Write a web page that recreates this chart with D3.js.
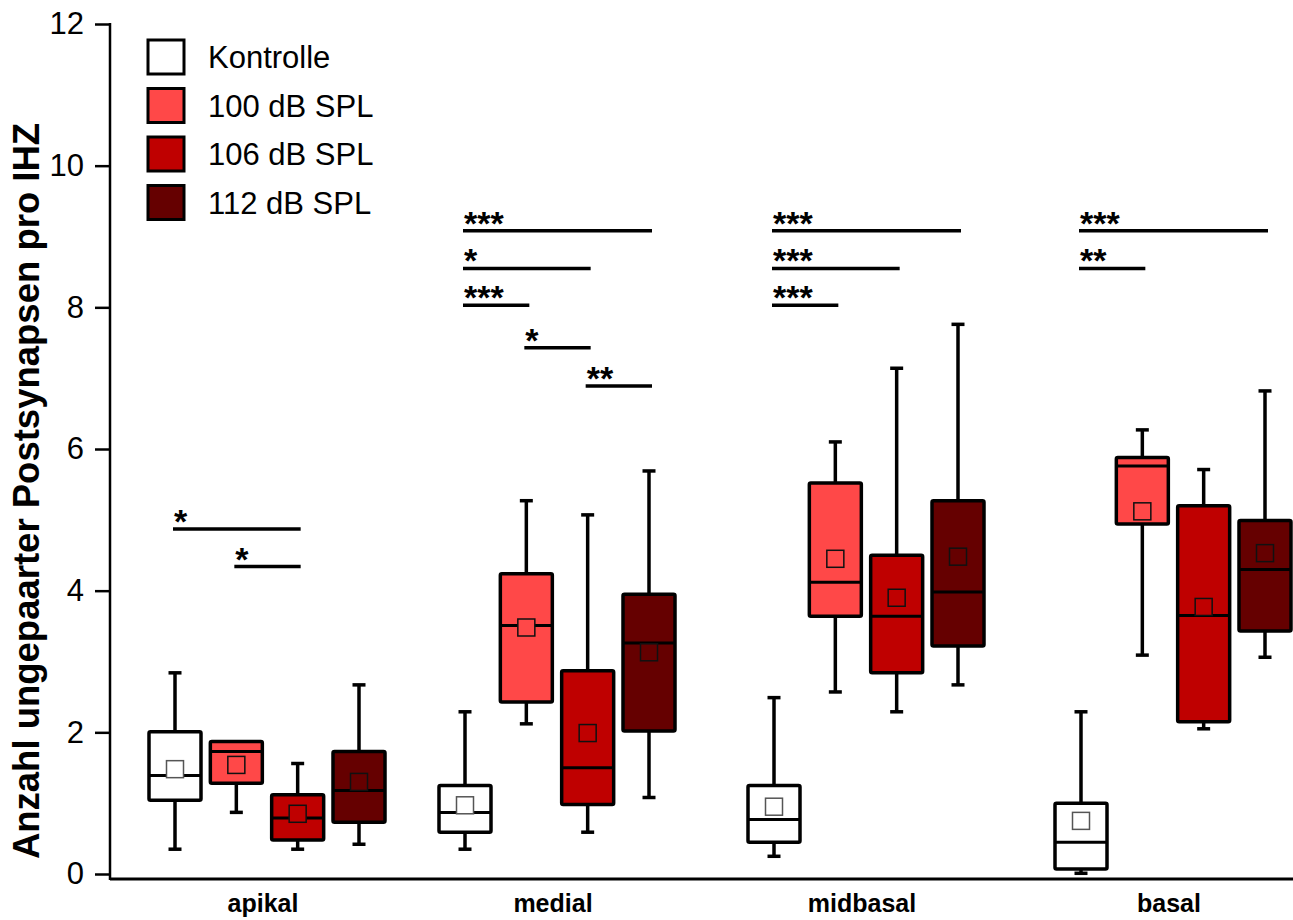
<!DOCTYPE html>
<html lang="de">
<head>
<meta charset="utf-8">
<title>Postsynapsen pro IHZ</title>
<script src="https://cdn.jsdelivr.net/npm/d3@7"></script>
<style>
  body { margin: 0; background: #fff; }
  text { font-family: "Liberation Sans", Arial, sans-serif; }
</style>
</head>
<body>
<svg id="chart" width="1293" height="920"></svg>
<script>
// groups along the cochlea and the four exposure series
var groups = ["apikal", "medial", "midbasal", "basal"];
var series = ["Kontrolle", "100 dB SPL", "106 dB SPL", "112 dB SPL"];
var colors = ["#ffffff", "#ff4848", "#bf0000", "#650000"];

// rows = groups, columns = series
var whiskerHigh = [[2.84, 1.87, 1.56, 2.67], [2.29, 5.27, 5.07, 5.69], [2.49, 6.10, 7.14, 7.76], [2.29, 6.27, 5.71, 6.82]];
var q3          = [[2.01, 1.87, 1.12, 1.73], [1.25, 4.24, 2.87, 3.95], [1.25, 5.52, 4.50, 5.27], [1.00, 5.88, 5.20, 4.99]];
var median      = [[1.39, 1.73, 0.79, 1.18], [0.87, 3.51, 1.50, 3.26], [0.77, 4.12, 3.64, 3.98], [0.45, 5.76, 3.65, 4.30]];
var q1          = [[1.04, 1.28, 0.48, 0.73], [0.59, 2.43, 0.98, 2.02], [0.45, 3.64, 2.84, 3.22], [0.07, 4.94, 2.15, 3.43]];
var whiskerLow  = [[0.35, 0.87, 0.35, 0.42], [0.35, 2.12, 0.59, 1.08], [0.25, 2.57, 2.29, 2.67], [0.01, 3.09, 2.05, 3.06]];
var mean        = [[1.48, 1.54, 0.85, 1.30], [0.97, 3.48, 1.99, 3.13], [0.95, 4.45, 3.90, 4.48], [0.75, 5.12, 3.77, 4.53]];

// significance: group, from series, to series, bar level, stars
var sig = [
  [0, 0, 2, 4.87, "*"], [0, 1, 2, 4.34, "*"],
  [1, 0, 3, 9.08, "***"], [1, 0, 2, 8.55, "*"], [1, 0, 1, 8.03, "***"], [1, 1, 2, 7.43, "*"], [1, 2, 3, 6.89, "**"],
  [2, 0, 3, 9.08, "***"], [2, 0, 2, 8.55, "***"], [2, 0, 1, 8.03, "***"],
  [3, 0, 3, 9.08, "***"], [3, 0, 1, 8.55, "**"]
];
var yTicks = [0, 2, 4, 6, 8, 10, 12];

var svg = d3.select("#chart");
var y = d3.scaleLinear().domain([0, 12]).range([874, 24]);
// group centres are not evenly spaced in the original
var x0 = d3.scaleOrdinal().domain(groups).range([267, 557, 866, 1173]);
var x1 = d3.scalePoint().domain(series).range([-92, 92]);
var boxW = 52, capW = 13, sw = 3.5;

function cx(g, s) { return x0(groups[g]) + x1(series[s]); }

// axes
var yAxis = d3.axisLeft(y).tickValues(yTicks).tickSize(15).tickSizeOuter(0).tickPadding(11);
var ga = svg.append("g").attr("transform", "translate(110,0)").call(yAxis);
ga.select(".domain").remove();
ga.selectAll(".tick line").attr("stroke", "#000").attr("stroke-width", 2.5);
ga.selectAll(".tick text").attr("font-size", 31).attr("fill", "#000")
  .attr("font-family", "'Liberation Sans', Arial, sans-serif");
svg.append("line").attr("x1", 110).attr("x2", 110).attr("y1", y(12) - 1).attr("y2", 880)
  .attr("stroke", "#000").attr("stroke-width", 2.5);
svg.append("line").attr("x1", 110).attr("x2", 1293).attr("y1", 879).attr("y2", 879)
  .attr("stroke", "#000").attr("stroke-width", 3);

svg.selectAll(".cat").data(groups).enter().append("text")
  .attr("x", function(d) { return x0(d) - 4; })
  .attr("y", 912).attr("text-anchor", "middle")
  .attr("font-size", 25).attr("font-weight", "bold").text(function(d) { return d; });

svg.append("text").attr("transform", "translate(39,491) rotate(-90)")
  .attr("text-anchor", "middle").attr("font-size", 36.5).attr("font-weight", "bold")
  .text("Anzahl ungepaarter Postsynapsen pro IHZ");

// boxes
var cells = [];
groups.forEach(function(g, gi) {
  series.forEach(function(s, si) { cells.push({ g: gi, s: si }); });
});

var box = svg.selectAll(".box").data(cells).enter().append("g").attr("class", "box");

box.each(function(d) {
  var el = d3.select(this), c = cx(d.g, d.s);
  var hi = whiskerHigh[d.g][d.s], lo = whiskerLow[d.g][d.s];
  var top = q3[d.g][d.s], bot = q1[d.g][d.s];
  if (hi > top) {
    el.append("line").attr("x1", c).attr("x2", c).attr("y1", y(top)).attr("y2", y(hi))
      .attr("stroke", "#000").attr("stroke-width", sw);
    el.append("line").attr("x1", c - capW / 2).attr("x2", c + capW / 2).attr("y1", y(hi)).attr("y2", y(hi))
      .attr("stroke", "#000").attr("stroke-width", sw);
  }
  if (lo < bot) {
    el.append("line").attr("x1", c).attr("x2", c).attr("y1", y(bot) - 4).attr("y2", y(lo))
      .attr("stroke", "#000").attr("stroke-width", sw);
    el.append("line").attr("x1", c - capW / 2).attr("x2", c + capW / 2).attr("y1", y(lo)).attr("y2", y(lo))
      .attr("stroke", "#000").attr("stroke-width", sw);
  }
  el.append("rect").attr("x", c - boxW / 2).attr("y", y(top)).attr("width", boxW)
    .attr("height", y(bot) - y(top)).attr("rx", 1.5)
    .attr("fill", colors[d.s]).attr("stroke", "#000").attr("stroke-width", sw);
  el.append("line").attr("x1", c - boxW / 2).attr("x2", c + boxW / 2)
    .attr("y1", y(median[d.g][d.s])).attr("y2", y(median[d.g][d.s]))
    .attr("stroke", "#000").attr("stroke-width", 3);
  el.append("rect").attr("x", c - 8.5).attr("y", y(mean[d.g][d.s]) - 8.5)
    .attr("width", 17).attr("height", 17).attr("fill", colors[d.s])
    .attr("stroke", d.s === 0 ? "#555" : "#111").attr("stroke-width", 1.5);
});

// significance bars
svg.selectAll(".sig").data(sig).enter().append("line")
  .attr("x1", function(d) { return cx(d[0], d[1]) - 2; })
  .attr("x2", function(d) { return cx(d[0], d[2]) + 3; })
  .attr("y1", function(d) { return y(d[3]); }).attr("y2", function(d) { return y(d[3]); })
  .attr("stroke", "#000").attr("stroke-width", 3.5);
svg.selectAll(".star").data(sig).enter().append("text")
  .attr("x", function(d) { return cx(d[0], d[1]) - 1; })
  .attr("y", function(d) { return y(d[3]) + 4; })
  .attr("font-size", 34).attr("font-weight", "bold")
  .text(function(d) { return d[4]; });

// legend
var leg = svg.selectAll(".leg").data(series).enter().append("g")
  .attr("transform", function(d, i) { return "translate(148," + (40 + i * 48.5) + ")"; });
leg.append("rect").attr("width", 36).attr("height", 34)
  .attr("fill", function(d, i) { return colors[i]; }).attr("stroke", "#000").attr("stroke-width", 3);
leg.append("text").attr("x", 60).attr("y", 28).attr("font-size", 31).text(function(d) { return d; });
</script>
</body>
</html>
